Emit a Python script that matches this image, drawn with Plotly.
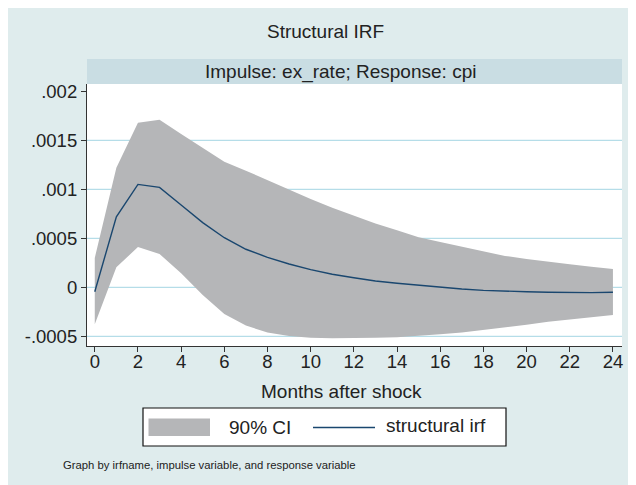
import plotly.graph_objects as go

# ---- data ----
months = list(range(0, 25))
irf = [-0.000045, 0.00072, 0.00105, 0.00102, 0.00084, 0.00066, 0.000506, 0.000388,
       0.000306, 0.000238, 0.00018, 0.000133, 0.000098, 0.000064, 0.000041, 0.00002,
       0.0, -0.000017, -0.000031, -0.00004, -0.000045, -0.00005, -0.000055, -0.000054,
       -0.000051]
ci_upper = [0.0003, 0.00122, 0.00168, 0.00171, 0.001564, 0.00142, 0.00128, 0.00119,
            0.001095, 0.000993, 0.0009, 0.000812, 0.000728, 0.000652, 0.000582, 0.00051,
            0.000462, 0.000413, 0.000365, 0.00032, 0.00029, 0.00026, 0.000235, 0.00021,
            0.000187]
ci_lower = [-0.000378, 0.000204, 0.000411, 0.00034, 0.000143, -0.000079, -0.000272,
            -0.000391, -0.00046, -0.000497, -0.000514, -0.00052, -0.00052, -0.000514,
            -0.00051, -0.000497, -0.00048, -0.00046, -0.000436, -0.000408, -0.000382,
            -0.000351, -0.000327, -0.000306, -0.000283]
x_ticks = list(range(0, 25, 2))
y_tickvals = [-0.0005, 0, 0.0005, 0.001, 0.0015, 0.002]
y_ticktext = ["-.0005", "0", ".0005", ".001", ".0015", ".002"]
grid_vals = [-0.0005, 0, 0.0005, 0.001, 0.0015]

# ---- geometry (page pixels; the page body has an 8px margin) ----
OFF = 8
W, H = 636 - OFF, 485 - OFF
PLOT_L, PLOT_R, PLOT_T, PLOT_B = 87, 622, 84, 346  # page coords
L = PLOT_L - OFF
R = W - (PLOT_R - OFF)
T = PLOT_T - OFF
B = H - (PLOT_B - OFF)
PW, PH = PLOT_R - PLOT_L, PLOT_B - PLOT_T


def px(x):
    return (x - PLOT_L) / PW


def py(y):
    return (PLOT_B - y) / PH


FONT = "Liberation Sans, Arial, Helvetica, sans-serif"
TXT = "#222222"
BG = "#dfeced"
STRIP = "#c9dde3"
BAND = "#b5b6b8"
LINE = "#1a476f"
GRID = "#a3d5e3"
FS = 19
TFS = 18.5

fig = go.Figure()
fig.add_trace(go.Scatter(
    x=months + months[::-1], y=ci_upper + ci_lower[::-1],
    fill="toself", fillcolor=BAND, line=dict(width=0), mode="lines",
    name="90% CI", showlegend=False, hoverinfo="skip"))
fig.add_trace(go.Scatter(
    x=months, y=irf, mode="lines", line=dict(color=LINE, width=1.4),
    name="structural irf", showlegend=False))

shapes = []
# subtitle strip
shapes.append(dict(type="rect", xref="paper", yref="paper", x0=0, x1=1,
                   y0=1, y1=py(59), fillcolor=STRIP, line=dict(width=0)))
# gridlines
for g in grid_vals:
    shapes.append(dict(type="line", xref="paper", yref="y", x0=0, x1=1, y0=g, y1=g,
                       line=dict(color=GRID, width=1), layer="below"))
# legend box
shapes.append(dict(type="rect", xref="paper", yref="paper", x0=px(143), x1=px(506),
                   y0=py(446), y1=py(408), fillcolor="white",
                   line=dict(color="#111111", width=1.2)))
shapes.append(dict(type="rect", xref="paper", yref="paper", x0=px(148.5), x1=px(210),
                   y0=py(436), y1=py(418.5), fillcolor=BAND, line=dict(width=0)))
shapes.append(dict(type="line", xref="paper", yref="paper", x0=px(313), x1=px(375),
                   y0=py(427.5), y1=py(427.5), line=dict(color=LINE, width=1.4)))

ann = [
    dict(text="Structural IRF", x=px(325.5), y=py(32), size=FS, xanchor="center"),
    dict(text="Impulse: ex_rate; Response: cpi", x=px(340.5), y=py(71.5), size=FS,
         xanchor="center"),
    dict(text="Months after shock", x=px(341), y=py(391), size=FS, xanchor="center"),
    dict(text="90% CI", x=px(226.5), y=py(427), size=FS, xanchor="left"),
    dict(text="structural irf", x=px(384), y=py(425.5), size=FS, xanchor="left"),
    dict(text="Graph by irfname, impulse variable, and response variable", x=px(60.5),
         y=py(465), size=11.3, xanchor="left"),
]
annotations = [dict(text=a["text"], x=a["x"], y=a["y"], xref="paper", yref="paper",
                    xanchor=a["xanchor"], yanchor="middle", showarrow=False,
                    font=dict(family=FONT, size=a["size"], color=TXT)) for a in ann]

fig.update_layout(
    width=W, height=H,
    margin=dict(l=L, r=R, t=T, b=B, pad=0),
    paper_bgcolor=BG, plot_bgcolor="white",
    shapes=shapes, annotations=annotations, showlegend=False,
    font=dict(family=FONT, size=TFS, color=TXT),
    xaxis=dict(range=[-0.36, 24.42], tickvals=x_ticks, showgrid=False, zeroline=False,
               showline=True, linecolor="#333333", linewidth=1.2, ticks="outside",
               ticklen=5, tickwidth=1.2, tickcolor="#333333", ticklabelstandoff=-6,
               tickfont=dict(family=FONT, size=TFS, color=TXT)),
    yaxis=dict(range=[-0.000599, 0.0020745], tickvals=y_tickvals, ticktext=y_ticktext,
               showgrid=False, zeroline=False, showline=True, linecolor="#333333",
               linewidth=1.2, ticks="outside", ticklen=5, tickwidth=1.2,
               tickcolor="#333333", tickfont=dict(family=FONT, size=TFS, color=TXT)),
)

fig.write_html("out.html")
